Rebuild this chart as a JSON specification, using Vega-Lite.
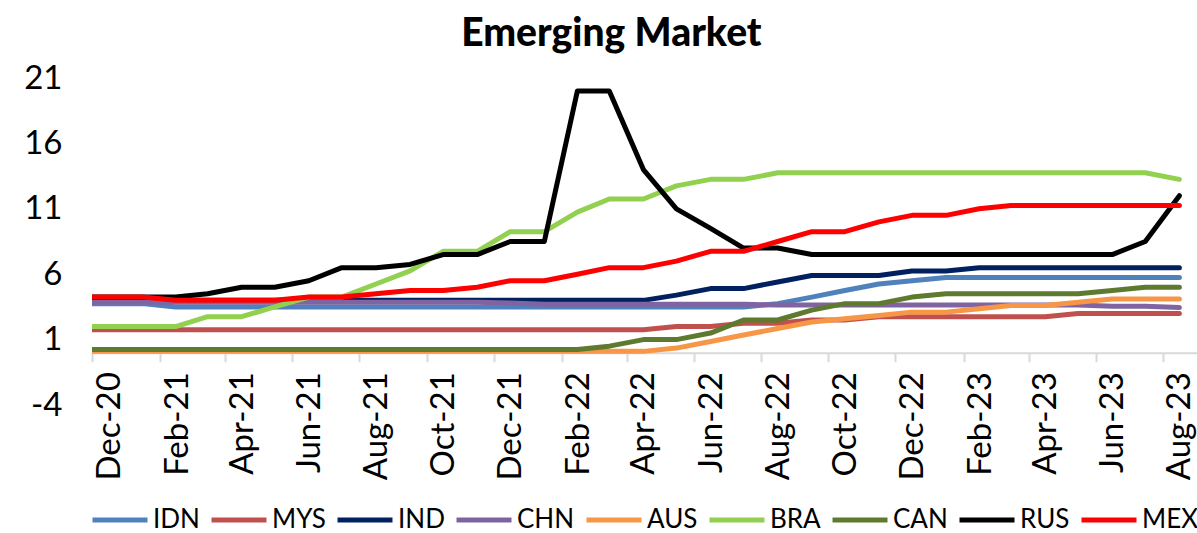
{
  "$schema": "https://vega.github.io/schema/vega-lite/v6.json",
  "width": 1105,
  "height": 327,
  "autosize": {"type": "none"},
  "padding": {"left": 92, "top": 78, "right": 0, "bottom": 128},
  "title": {"text": "Emerging Market", "fontSize": 39, "font": "Lato", "fontWeight": 900, "color": "#000000", "anchor": "middle", "frame": "bounds", "offset": 8},
  "data": {"values": [
    {"month": "2020-11-16", "IDN": 3.75, "MYS": 1.75, "IND": 4.00, "CHN": 3.85, "AUS": 0.10, "BRA": 2.00, "CAN": 0.25, "RUS": 4.25, "MEX": 4.25},
    {"month": "2020-12-16", "IDN": 3.75, "MYS": 1.75, "IND": 4.00, "CHN": 3.85, "AUS": 0.10, "BRA": 2.00, "CAN": 0.25, "RUS": 4.25, "MEX": 4.25},
    {"month": "2021-01-16", "IDN": 3.75, "MYS": 1.75, "IND": 4.00, "CHN": 3.85, "AUS": 0.10, "BRA": 2.00, "CAN": 0.25, "RUS": 4.25, "MEX": 4.25},
    {"month": "2021-02-15", "IDN": 3.50, "MYS": 1.75, "IND": 4.00, "CHN": 3.85, "AUS": 0.10, "BRA": 2.00, "CAN": 0.25, "RUS": 4.25, "MEX": 4.00},
    {"month": "2021-03-16", "IDN": 3.50, "MYS": 1.75, "IND": 4.00, "CHN": 3.85, "AUS": 0.10, "BRA": 2.75, "CAN": 0.25, "RUS": 4.50, "MEX": 4.00},
    {"month": "2021-04-16", "IDN": 3.50, "MYS": 1.75, "IND": 4.00, "CHN": 3.85, "AUS": 0.10, "BRA": 2.75, "CAN": 0.25, "RUS": 5.00, "MEX": 4.00},
    {"month": "2021-05-16", "IDN": 3.50, "MYS": 1.75, "IND": 4.00, "CHN": 3.85, "AUS": 0.10, "BRA": 3.50, "CAN": 0.25, "RUS": 5.00, "MEX": 4.00},
    {"month": "2021-06-16", "IDN": 3.50, "MYS": 1.75, "IND": 4.00, "CHN": 3.85, "AUS": 0.10, "BRA": 4.25, "CAN": 0.25, "RUS": 5.50, "MEX": 4.25},
    {"month": "2021-07-16", "IDN": 3.50, "MYS": 1.75, "IND": 4.00, "CHN": 3.85, "AUS": 0.10, "BRA": 4.25, "CAN": 0.25, "RUS": 6.50, "MEX": 4.25},
    {"month": "2021-08-16", "IDN": 3.50, "MYS": 1.75, "IND": 4.00, "CHN": 3.85, "AUS": 0.10, "BRA": 5.25, "CAN": 0.25, "RUS": 6.50, "MEX": 4.50},
    {"month": "2021-09-16", "IDN": 3.50, "MYS": 1.75, "IND": 4.00, "CHN": 3.85, "AUS": 0.10, "BRA": 6.25, "CAN": 0.25, "RUS": 6.75, "MEX": 4.75},
    {"month": "2021-10-16", "IDN": 3.50, "MYS": 1.75, "IND": 4.00, "CHN": 3.85, "AUS": 0.10, "BRA": 7.75, "CAN": 0.25, "RUS": 7.50, "MEX": 4.75},
    {"month": "2021-11-16", "IDN": 3.50, "MYS": 1.75, "IND": 4.00, "CHN": 3.85, "AUS": 0.10, "BRA": 7.75, "CAN": 0.25, "RUS": 7.50, "MEX": 5.00},
    {"month": "2021-12-16", "IDN": 3.50, "MYS": 1.75, "IND": 4.00, "CHN": 3.80, "AUS": 0.10, "BRA": 9.25, "CAN": 0.25, "RUS": 8.50, "MEX": 5.50},
    {"month": "2022-01-16", "IDN": 3.50, "MYS": 1.75, "IND": 4.00, "CHN": 3.70, "AUS": 0.10, "BRA": 9.25, "CAN": 0.25, "RUS": 8.50, "MEX": 5.50},
    {"month": "2022-02-15", "IDN": 3.50, "MYS": 1.75, "IND": 4.00, "CHN": 3.70, "AUS": 0.10, "BRA": 10.75, "CAN": 0.25, "RUS": 20.00, "MEX": 6.00},
    {"month": "2022-03-16", "IDN": 3.50, "MYS": 1.75, "IND": 4.00, "CHN": 3.70, "AUS": 0.10, "BRA": 11.75, "CAN": 0.50, "RUS": 20.00, "MEX": 6.50},
    {"month": "2022-04-16", "IDN": 3.50, "MYS": 1.75, "IND": 4.00, "CHN": 3.70, "AUS": 0.10, "BRA": 11.75, "CAN": 1.00, "RUS": 14.00, "MEX": 6.50},
    {"month": "2022-05-16", "IDN": 3.50, "MYS": 2.00, "IND": 4.40, "CHN": 3.70, "AUS": 0.35, "BRA": 12.75, "CAN": 1.00, "RUS": 11.00, "MEX": 7.00},
    {"month": "2022-06-16", "IDN": 3.50, "MYS": 2.00, "IND": 4.90, "CHN": 3.70, "AUS": 0.85, "BRA": 13.25, "CAN": 1.50, "RUS": 9.50, "MEX": 7.75},
    {"month": "2022-07-16", "IDN": 3.50, "MYS": 2.25, "IND": 4.90, "CHN": 3.70, "AUS": 1.35, "BRA": 13.25, "CAN": 2.50, "RUS": 8.00, "MEX": 7.75},
    {"month": "2022-08-16", "IDN": 3.75, "MYS": 2.25, "IND": 5.40, "CHN": 3.65, "AUS": 1.85, "BRA": 13.75, "CAN": 2.50, "RUS": 8.00, "MEX": 8.50},
    {"month": "2022-09-16", "IDN": 4.25, "MYS": 2.50, "IND": 5.90, "CHN": 3.65, "AUS": 2.35, "BRA": 13.75, "CAN": 3.25, "RUS": 7.50, "MEX": 9.25},
    {"month": "2022-10-16", "IDN": 4.75, "MYS": 2.50, "IND": 5.90, "CHN": 3.65, "AUS": 2.60, "BRA": 13.75, "CAN": 3.75, "RUS": 7.50, "MEX": 9.25},
    {"month": "2022-11-16", "IDN": 5.25, "MYS": 2.75, "IND": 5.90, "CHN": 3.65, "AUS": 2.85, "BRA": 13.75, "CAN": 3.75, "RUS": 7.50, "MEX": 10.00},
    {"month": "2022-12-16", "IDN": 5.50, "MYS": 2.75, "IND": 6.25, "CHN": 3.65, "AUS": 3.10, "BRA": 13.75, "CAN": 4.25, "RUS": 7.50, "MEX": 10.50},
    {"month": "2023-01-16", "IDN": 5.75, "MYS": 2.75, "IND": 6.25, "CHN": 3.65, "AUS": 3.10, "BRA": 13.75, "CAN": 4.50, "RUS": 7.50, "MEX": 10.50},
    {"month": "2023-02-15", "IDN": 5.75, "MYS": 2.75, "IND": 6.50, "CHN": 3.65, "AUS": 3.35, "BRA": 13.75, "CAN": 4.50, "RUS": 7.50, "MEX": 11.00},
    {"month": "2023-03-16", "IDN": 5.75, "MYS": 2.75, "IND": 6.50, "CHN": 3.65, "AUS": 3.60, "BRA": 13.75, "CAN": 4.50, "RUS": 7.50, "MEX": 11.25},
    {"month": "2023-04-16", "IDN": 5.75, "MYS": 2.75, "IND": 6.50, "CHN": 3.65, "AUS": 3.60, "BRA": 13.75, "CAN": 4.50, "RUS": 7.50, "MEX": 11.25},
    {"month": "2023-05-16", "IDN": 5.75, "MYS": 3.00, "IND": 6.50, "CHN": 3.65, "AUS": 3.85, "BRA": 13.75, "CAN": 4.50, "RUS": 7.50, "MEX": 11.25},
    {"month": "2023-06-16", "IDN": 5.75, "MYS": 3.00, "IND": 6.50, "CHN": 3.55, "AUS": 4.10, "BRA": 13.75, "CAN": 4.75, "RUS": 7.50, "MEX": 11.25},
    {"month": "2023-07-16", "IDN": 5.75, "MYS": 3.00, "IND": 6.50, "CHN": 3.55, "AUS": 4.10, "BRA": 13.75, "CAN": 5.00, "RUS": 8.50, "MEX": 11.25},
    {"month": "2023-08-16", "IDN": 5.75, "MYS": 3.00, "IND": 6.50, "CHN": 3.45, "AUS": 4.10, "BRA": 13.25, "CAN": 5.00, "RUS": 12.00, "MEX": 11.25}
  ]},
  "transform": [
    {"fold": ["IDN", "MYS", "IND", "CHN", "AUS", "BRA", "CAN", "RUS", "MEX"], "as": ["country", "rate"]}
  ],
  "mark": {"type": "line", "strokeWidth": 5, "strokeCap": "round", "strokeJoin": "round", "clip": true},
  "encoding": {
    "x": {
      "field": "month",
      "type": "temporal",
      "scale": {
        "type": "utc",
        "domain": [
          {"year": 2020, "month": 12, "date": 1, "utc": true},
          {"year": 2023, "month": 9, "date": 1, "utc": true}
        ]
      },
      "axis": {
        "title": null,
        "values": [
          {"year": 2020, "month": 12, "date": 1, "utc": true},
          {"year": 2021, "month": 2, "date": 1, "utc": true},
          {"year": 2021, "month": 4, "date": 1, "utc": true},
          {"year": 2021, "month": 6, "date": 1, "utc": true},
          {"year": 2021, "month": 8, "date": 1, "utc": true},
          {"year": 2021, "month": 10, "date": 1, "utc": true},
          {"year": 2021, "month": 12, "date": 1, "utc": true},
          {"year": 2022, "month": 2, "date": 1, "utc": true},
          {"year": 2022, "month": 4, "date": 1, "utc": true},
          {"year": 2022, "month": 6, "date": 1, "utc": true},
          {"year": 2022, "month": 8, "date": 1, "utc": true},
          {"year": 2022, "month": 10, "date": 1, "utc": true},
          {"year": 2022, "month": 12, "date": 1, "utc": true},
          {"year": 2023, "month": 2, "date": 1, "utc": true},
          {"year": 2023, "month": 4, "date": 1, "utc": true},
          {"year": 2023, "month": 6, "date": 1, "utc": true},
          {"year": 2023, "month": 8, "date": 1, "utc": true}
        ],
        "format": "%b-%y",
        "labelAngle": 270,
        "labelOffset": 17,
        "offset": -52.3,
        "domainColor": "#d9d9d9",
        "domainWidth": 2,
        "tickColor": "#d9d9d9",
        "tickWidth": 2,
        "tickSize": 9,
        "labelFontSize": 33,
        "labelFont": "Lato",
        "labelColor": "#000000",
        "labelPadding": 10,
        "labelFlush": false,
        "labelOverlap": false,
        "labelBound": false,
        "grid": false
      }
    },
    "y": {
      "field": "rate",
      "type": "quantitative",
      "scale": {"domain": [-4, 21], "nice": false, "zero": false},
      "axis": {
        "title": null,
        "values": [-4, 1, 6, 11, 16, 21],
        "labelExpr": "'' + datum.value",
        "domain": false,
        "ticks": false,
        "grid": false,
        "labelFontSize": 33,
        "labelFont": "Lato",
        "labelColor": "#000000",
        "labelPadding": 30
      }
    },
    "color": {
      "field": "country",
      "type": "nominal",
      "sort": ["IDN", "MYS", "IND", "CHN", "AUS", "BRA", "CAN", "RUS", "MEX"],
      "scale": {
        "domain": ["IDN", "MYS", "IND", "CHN", "AUS", "BRA", "CAN", "RUS", "MEX"],
        "range": ["#4F81BD", "#C0504D", "#002060", "#8064A2", "#F79646", "#92D050", "#5E7A2E", "#000000", "#FF0000"]
      },
      "legend": {
        "title": null,
        "orient": "bottom",
        "direction": "horizontal",
        "gridAlign": "each",
        "symbolType": "stroke",
        "symbolSize": 3025,
        "symbolStrokeWidth": 5,
        "labelFontSize": 26,
        "labelFont": "Lato",
        "labelColor": "#000000",
        "columnPadding": 1,
        "labelOffset": 3,
        "offset": 9,
        "labelLimit": 200
      }
    }
  },
  "config": {
    "view": {"stroke": null},
    "font": "Lato",
    "legend": {"layout": {"bottom": {"anchor": "middle", "bounds": "full"}}}
  }
}
